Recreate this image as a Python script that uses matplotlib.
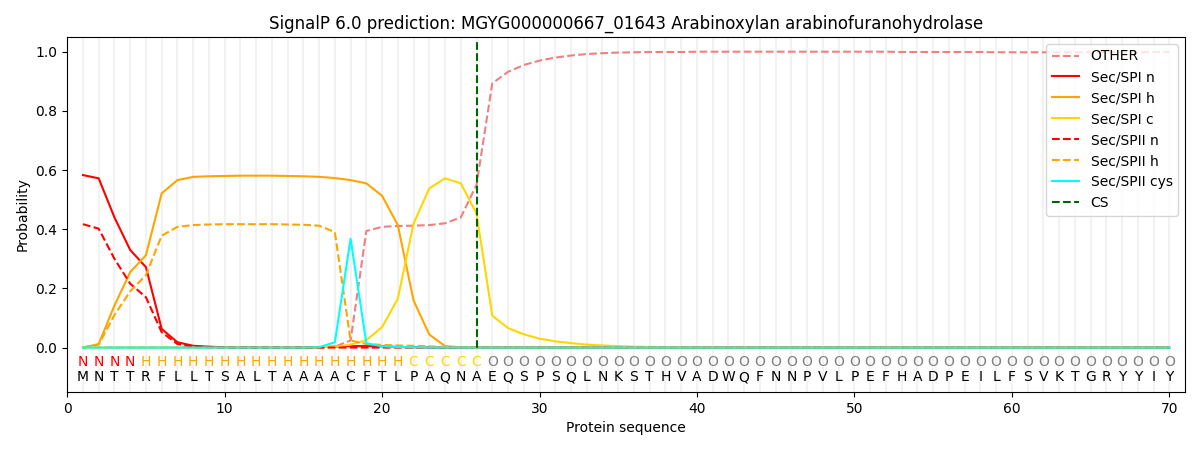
import matplotlib
matplotlib.use('Agg')
import matplotlib.pyplot as plt

# residue sequence and predicted region labels
seq = "MNTTRFLLTSALTAAAACFTLPAQNAEQSPSQLNKSTHVADWQFNNPVLPEFHADPEILFSVKTGRYYIY"
regions = "NNNNHHHHHHHHHHHHHHHHHCCCCCOOOOOOOOOOOOOOOOOOOOOOOOOOOOOOOOOOOOOOOOOOOO"

other = [0.0, 0.0, 0.0, 0.0, 0.0, 0.0, 0.0, 0.0, 0.0, 0.0,
         0.0, 0.0, 0.0, 0.0, 0.0, 0.001, 0.003, 0.024, 0.394, 0.408,
         0.411, 0.412, 0.414, 0.42, 0.44, 0.55, 0.893, 0.932, 0.955, 0.97,
         0.98, 0.987, 0.992, 0.995, 0.997, 0.998, 0.999, 0.999, 0.999, 1.0,
         1.0, 1.0, 1.0, 1.0, 1.0, 1.0, 1.0, 1.0, 1.0, 1.0,
         1.0, 1.0, 0.999, 0.999, 0.999, 0.999, 0.999, 0.999, 0.998, 0.998,
         0.998, 0.998, 0.998, 0.998, 0.998, 0.998, 0.998, 0.998, 0.999, 0.999]
spi_n = [0.583, 0.572, 0.44, 0.33, 0.272, 0.063, 0.018, 0.006, 0.003, 0.001,
         0.0, 0.0, 0.0, 0.0, 0.0, 0.001, 0.003, 0.005, 0.005, 0.004,
         0.002, 0.001, 0.0, 0.0, 0.0, 0.0, 0.0, 0.0, 0.0, 0.0] + [0.0] * 40
spi_h = [0.0, 0.012, 0.142, 0.255, 0.312, 0.521, 0.566, 0.577, 0.579, 0.58,
         0.581, 0.581, 0.581, 0.58, 0.579, 0.577, 0.573, 0.566, 0.555, 0.513,
         0.414, 0.159, 0.044, 0.005, 0.001, 0.0, 0.0, 0.0, 0.0, 0.0] + [0.0] * 40
spi_c = [0.0, 0.0, 0.0, 0.0, 0.0, 0.0, 0.0, 0.0, 0.0, 0.0,
         0.0, 0.0, 0.0, 0.0, 0.0, 0.001, 0.003, 0.01, 0.025, 0.069,
         0.165, 0.419, 0.538, 0.572, 0.555, 0.453, 0.108, 0.066, 0.045, 0.03,
         0.021, 0.015, 0.01, 0.007, 0.005, 0.003, 0.002, 0.001, 0.001, 0.0] + [0.0] * 30
spii_n = [0.417, 0.402, 0.3, 0.216, 0.17, 0.052, 0.012, 0.003, 0.001, 0.0] + [0.0] * 60
spii_h = [0.0, 0.01, 0.11, 0.19, 0.245, 0.378, 0.408, 0.414, 0.416, 0.417,
          0.417, 0.417, 0.417, 0.416, 0.415, 0.412, 0.39, 0.024, 0.012, 0.009,
          0.007, 0.006, 0.004, 0.002, 0.001, 0.0, 0.0, 0.0, 0.0, 0.0] + [0.0] * 40
spii_cys = [0.0] * 15 + [0.001, 0.018, 0.368, 0.015, 0.004, 0.002, 0.001] + [0.0] * 48
cs_pos = 26

region_colors = {'N': 'red', 'H': 'orange', 'C': 'gold', 'O': 'gray'}

pos = list(range(1, len(seq) + 1))

fig, ax = plt.subplots(figsize=(12, 4.5), dpi=100)
fig.subplots_adjust(left=0.056, right=0.9875, top=0.918, bottom=0.129)

# faint guide line at every residue
for p in pos:
    ax.axvline(p, color='#f2f2f2', linewidth=1.5, zorder=0)

ax.plot(pos, other, color='lightcoral', linestyle='--', label='OTHER')
ax.plot(pos, spi_n, color='red', label='Sec/SPI n')
ax.plot(pos, spi_h, color='orange', label='Sec/SPI h')
ax.plot(pos, spi_c, color='gold', label='Sec/SPI c')
ax.plot(pos, spii_n, color='red', linestyle='--', label='Sec/SPII n')
ax.plot(pos, spii_h, color='orange', linestyle='--', label='Sec/SPII h')
ax.plot(pos, spii_cys, color='cyan', label='Sec/SPII cys')
ax.plot([cs_pos, cs_pos], [0, 1.04], color='darkgreen', linestyle='--', label='CS')

for p, aa, r in zip(pos, seq, regions):
    ax.text(p, -0.05, r, color=region_colors[r], ha='center', va='center', fontsize=10)
    ax.text(p, -0.1, aa, color='black', ha='center', va='center', fontsize=10)

ax.set_xlim(0, 71)
ax.set_ylim(-0.15, 1.05)
ax.set_yticks([0.0, 0.2, 0.4, 0.6, 0.8, 1.0])
ax.set_xlabel('Protein sequence')
ax.set_ylabel('Probability')
ax.set_title('SignalP 6.0 prediction: MGYG000000667_01643 Arabinoxylan arabinofuranohydrolase')
ax.legend(loc='upper right')

fig.savefig('out.png')
